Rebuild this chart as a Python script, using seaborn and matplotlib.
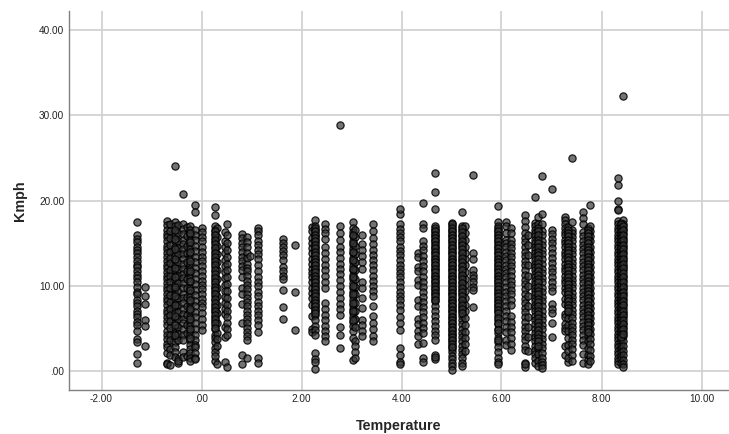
import pandas as pd
import matplotlib
matplotlib.use('Agg')
import matplotlib.pyplot as plt
import seaborn as sns

# speeds read column by column, one list per temperature
c_m130 = [17.5,16.0,15.5,15.1,14.6,14.2,13.8,13.4,12.9,12.5,12.2,11.7,11.3,10.9,10.4,9.9,9.3,9.0,8.4,8.0,7.6,7.1,6.7,6.3,5.8,5.4,4.7,3.8,3.4,2.0,1.0]
c_m113 = [9.9,8.8,7.9,6.0,5.3,3.0]
c_m070 = [17.6,17.1,16.6,16.1,15.7,15.2,14.7,14.3,13.8,13.4,12.9,12.5,12.1,11.6,11.2,10.8,10.3,9.9,9.5,9.0,8.6,8.2,7.7,7.2,6.8,6.3,5.9,5.4,4.7,4.3,3.8,3.2,2.8,2.1,1.0,0.8]
c_m063 = [17.3,16.4,15.6,14.8,14.0,13.3,12.7,11.9,11.1,10.4,9.7,8.9,8.1,7.3,6.6,5.9,5.1,4.3,3.6,2.6,1.9,0.7]
c_m053 = [17.5,17.0,16.3,15.8,15.2,14.6,14.0,13.5,12.9,12.3,11.8,11.2,10.7,10.1,9.6,9.0,8.5,7.9,7.4,6.8,6.2,5.7,5.1,4.5,3.9,3.4,2.8,2.3,1.7,24.0]
c_m047 = [17.1,16.2,15.3,14.4,13.7,12.8,12.0,11.1,10.3,9.4,8.6,7.8,6.9,6.1,5.2,4.4,3.6,1.4,1.0,1.2]
c_m037 = [20.8,17.2,16.7,16.1,15.4,14.9,14.3,13.7,13.1,12.6,12.0,11.4,10.9,10.3,9.7,9.1,8.6,8.0,7.3,6.7,6.1,5.6,5.0,4.3,3.6,2.2,1.7]
c_m030 = [16.9,15.8,14.7,13.8,12.8,11.7,10.8,9.7,8.7,7.6,6.6,5.4,4.5,1.8]
c_m023 = [17.0,16.5,15.9,15.4,14.8,14.3,13.7,13.1,12.6,12.0,11.5,10.9,10.4,9.8,9.2,8.7,8.1,7.5,7.0,6.4,5.8,5.3,4.7,4.2,3.6,3.1,2.6,2.1,1.6,1.2]
c_m013 = [19.5,18.6,16.6,16.0,15.4,14.7,14.1,13.4,12.8,12.1,11.5,10.8,10.2,9.5,8.9,8.2,7.6,6.9,6.3,5.6,4.9,4.3,3.6,3.1,2.8,2.1,1.6,1.4]
c_p000 = [16.8,16.3,15.7,15.2,14.6,14.0,13.4,12.9,12.3,11.7,11.2,10.6,10.1,9.6,9.1,8.5,8.0,7.5,6.8,6.1,5.4,4.8]
c_p027 = [19.2,18.3,17.0,16.6,16.1,15.6,15.1,14.6,14.1,13.6,13.2,12.7,12.2,11.7,11.2,10.7,10.2,9.7,9.3,8.8,8.3,7.8,7.3,6.9,6.4,5.9,5.4,4.9,4.3,3.9,3.4,2.7,2.2,1.2,1.8]
c_p030 = [16.8,15.7,14.7,13.7,12.8,11.8,10.8,9.8,8.8,7.8,6.8,5.7,4.5,3.8,3.0,0.9]
c_p047 = [16.3,15.2,14.5,13.8,13.0,12.3,11.6,10.9,10.1,9.4,8.7,8.0,7.3,6.7,5.2,1.1,4.0]
c_p050 = [17.3,15.9,15.0,14.2,13.4,12.6,11.8,11.0,10.2,9.4,8.6,7.8,7.1,6.3,5.6,5.0,4.2,0.5]
c_p080 = [16.1,15.6,15.0,14.5,14.0,13.4,12.9,12.3,11.8,11.0,9.7,9.1,7.9,5.7,1.9,0.8]
c_p090 = [15.7,15.1,14.6,13.9,13.3,12.6,12.1,11.7,11.1,10.6,10.1,9.6,9.1,8.6,8.1,7.6,7.1,6.6,6.1,5.6,5.1,4.6,4.1,3.6,1.5]
c_p097 = [13.5]
c_p113 = [16.8,16.4,15.9,15.3,14.8,14.2,13.7,13.1,12.4,11.7,11.0,10.5,10.0,9.3,8.8,8.1,7.6,7.1,6.6,6.0,5.4,1.5,1.0,4.6]
c_p163 = [15.5,15.0,14.6,14.1,13.6,13.0,12.2,11.7,11.2,10.8,9.5,7.5,6.1]
c_p187 = [14.8,9.3,4.8]
c_p220 = [16.9,16.4,15.6,15.0,14.4,13.8,13.2,12.6,12.0,11.5,11.0,10.4,9.8,9.2,8.6,7.8,6.5,5.0,4.6]
c_p227 = [17.7,17.0,16.6,16.2,15.8,15.4,15.0,14.6,14.2,13.8,13.4,13.0,12.6,12.2,11.8,11.4,11.0,10.6,10.2,9.8,9.4,9.0,8.6,8.2,7.8,7.4,7.0,6.6,6.0,5.3,4.8,4.2,2.1,1.4,1.1,0.3]
c_p247 = [17.2,16.7,16.2,15.5,14.5,13.8,13.1,12.4,11.8,11.2,10.5,9.8,8.0,7.3,6.6,6.0,5.3,4.7,4.1,3.5]
c_p277 = [28.9,17.0,16.2,15.4,14.6,14.0,13.3,12.6,12.0,11.4,10.7,10.0,9.3,8.6,7.9,7.3,6.6,5.2,4.2,2.7]
c_p303 = [17.5,16.8,16.3,15.8,15.3,14.8,14.3,13.8,13.3,12.8,12.3,11.8,11.3,10.8,10.3,9.8,9.3,8.8,8.3,7.8,7.3,6.8,6.3,5.8,5.3,4.7,3.9,1.3]
c_p307 = [16.6,15.7,14.7,13.7,12.8,11.9,10.8,9.9,9.0,8.0,7.0,6.1,5.2,3.5,2.9,2.2,1.6]
c_p320 = [15.9,14.9,14.2,13.5,12.8,12.0,10.5,9.7,8.6,7.4,6.0,5.4,4.7,4.1]
c_p343 = [17.2,16.4,15.6,14.9,14.2,13.6,13.0,12.4,11.8,11.2,10.6,10.0,9.4,8.8,7.6,6.5,5.7,4.9,4.1,3.5]
c_p397 = [18.4,19.0,17.3,16.7,16.2,15.7,15.2,14.6,14.1,13.6,13.0,12.5,12.0,11.5,11.0,10.4,9.9,9.3,8.8,8.3,7.8,7.2,6.4,5.6,4.8,2.7,1.9,1.1,0.8]
c_p433 = [13.9,13.4,12.2,11.7,10.7,10.1,8.4,7.6,6.1,5.5,4.7,4.1,3.2]
c_p443 = [19.7,17.3,16.8,15.3,14.7,14.2,13.5,12.9,12.3,11.7,11.0,10.5,9.9,9.3,8.7,8.1,7.5,6.9,6.4,5.7,5.1,4.5,3.3,1.6,1.1]
c_p467 = [23.2,21.0,19.0,17.0,16.6,16.2,15.8,15.4,15.0,14.6,14.2,13.8,13.4,13.0,12.6,12.2,11.8,11.4,11.0,10.6,10.2,9.8,9.4,9.0,8.6,8.2,7.6,7.1,6.5,5.9,5.3,4.7,4.2,3.6,1.9,1.4,1.7]
c_p500 = [17.4,17.0,16.6,16.2,15.8,15.4,15.0,14.6,14.2,13.8,13.4,13.0,12.6,12.2,11.8,11.4,11.0,10.6,10.2,9.8,9.4,9.0,8.6,8.2,7.8,7.4,7.0,6.6,6.2,5.8,5.4,5.0,4.6,4.2,3.8,3.4,3.0,2.6,2.2,1.8,1.4,1.0,0.6,0.2]
c_p520 = [18.7,17.0,16.5,16.0,15.5,15.0,14.5,14.0,13.5,13.0,12.5,12.0,11.5,11.0,10.5,10.0,9.5,9.0,8.5,8.0,7.5,7.0,6.5,6.0,5.5,5.0,4.5,4.0,3.5,3.0,2.5,2.0,1.5,1.0,0.6]
c_p527 = [17.0,16.2,15.4,14.6,13.9,13.2,12.4,11.6,10.8,10.1,9.4,8.6,7.8,7.0,6.2,5.4,4.6,3.9,3.2,2.4]
c_p543 = [23.0,13.9,13.2,11.9,11.3,10.9,10.4,9.9,9.5,7.5]
c_p593 = [19.3,17.5,17.0,16.6,16.2,15.8,15.4,15.0,14.6,14.2,13.8,13.4,13.0,12.6,12.2,11.8,11.4,11.0,10.6,10.2,9.8,9.4,9.0,8.6,8.2,7.8,7.4,7.0,6.5,6.0,5.5,5.0,4.5,3.9,3.4,2.8,2.2,1.6,1.1,0.8]
c_p610 = [17.5,17.0,16.2,15.4,15.0,14.5,14.0,13.5,13.0,12.5,12.0,11.5,11.0,10.4,9.9,9.3,8.8,8.2,7.6,7.0,6.5,5.9,5.2,4.6,3.7,3.1]
c_p620 = [16.8,16.2,15.4,14.9,14.4,13.9,13.4,12.8,12.3,11.7,11.2,10.6,10.1,9.5,9.0,8.3,7.7,6.5,5.8,5.2,4.6,3.9,3.2,2.5]
c_p647 = [18.3,17.6,16.9,16.2,15.6,15.1,14.6,14.0,13.5,12.9,12.4,11.8,11.3,10.7,10.2,9.6,9.1,8.5,8.0,7.4,6.9,6.3,5.8,5.2,4.7,4.1,3.6,3.0,2.5,1.0,0.5,0.8]
c_p653 = [16.0,14.8,13.6,12.4,11.2,10.0,8.8,7.6,6.4,5.2,4.0,2.4]
c_p667 = [20.4,17.4,17.0,16.6,16.2,15.8,15.4,15.0,14.6,14.2,13.8,13.4,13.0,12.6,12.2,11.8,11.4,11.0,10.6,10.2,9.8,9.4,9.0,8.6,8.2,7.8,7.4,7.0,6.5,6.0,5.5,5.0,4.5,4.0,3.5,3.0,2.5,2.0,1.5,1.0]
c_p673 = [18.1,17.2,16.5,15.7,14.9,14.2,13.4,12.6,11.9,11.1,10.3,9.6,8.8,8.0,7.3,6.5,5.7,5.0,4.2,3.4,2.7,2.0,1.2,0.6]
c_p680 = [22.9,18.4,17.3,16.4,15.9,15.3,14.8,14.2,13.7,13.1,12.6,12.0,11.5,10.9,10.4,9.8,9.3,8.7,8.2,7.6,7.1,6.5,6.0,5.4,4.9,4.3,3.8,3.2,2.7,2.1,1.5,1.1,0.7,0.4]
c_p700 = [21.3,16.5,16.1,15.5,15.0,14.4,13.9,13.3,12.7,12.1,11.6,11.0,10.5,9.9,9.4,7.9,7.3,6.8,5.7,4.0]
c_p727 = [18.1,17.7,17.2,16.8,16.3,15.9,15.4,15.0,14.5,14.0,13.6,13.1,12.6,12.1,11.7,11.2,10.7,10.3,9.8,9.3,8.5,7.9,6.7,6.3,5.5,5.1,4.7,2.9,1.9]
c_p733 = [16.9,16.0,15.3,14.5,13.8,13.0,12.3,11.5,10.8,10.0,9.2,8.5,7.7,6.9,6.2,5.4,4.7,3.9,3.1,2.4,1.1,1.5]
c_p740 = [25.0,17.5,16.6,16.2,15.7,15.2,14.7,14.2,13.7,13.2,12.7,12.2,11.7,11.2,10.7,10.2,9.7,9.2,8.7,8.2,7.7,7.2,6.7,6.2,5.7,5.2,4.7,4.2,3.7,3.2,2.6,1.9,1.2]
c_p763 = [18.7,18.0,17.2,16.3,15.8,15.3,14.8,14.3,13.8,13.3,12.8,12.3,11.8,11.3,10.8,10.3,9.8,9.3,8.8,8.3,7.8,7.3,6.8,6.3,5.8,5.3,4.8,4.3,3.7,3.1,2.0,1.0]
c_p773 = [16.8,16.3,15.7,15.0,14.3,13.7,13.0,12.3,11.7,11.0,10.3,9.7,9.0,8.3,7.7,7.0,6.3,5.7,5.0,4.3,3.5,2.7,1.9,1.3,0.8]
c_p777 = [19.5,17.0,16.4,15.8,15.2,14.6,14.0,13.4,12.8,12.2,11.6,11.0,10.4,9.8,9.2,8.6,8.0,7.4,6.8,6.2,5.6,5.0,4.4,3.8,3.2,2.5,1.8,1.2]
c_p833 = [22.6,21.8,20.0,19.0,18.9,17.6,17.2,16.8,16.4,16.0,15.6,15.2,14.8,14.4,14.0,13.6,13.2,12.8,12.4,12.0,11.6,11.2,10.8,10.4,10.0,9.6,9.2,8.8,8.4,8.0,7.6,7.2,6.8,6.4,6.0,5.6,5.2,4.8,4.4,4.0,3.6,3.2,2.8,2.4,2.0,1.6,1.2,0.8]
c_p838 = [17.4,17.0,16.6,16.2,15.8,15.4,15.0,14.6,14.2,13.8,13.4,13.0,12.6,12.2,11.8,11.4,11.0,10.6,10.2,9.8,9.4,9.0,8.6,8.2,7.8,7.4,7.0,6.6,6.2,5.8,5.4,5.0,4.6,4.2,3.8,3.4,3.0,2.6,2.2,1.8,1.4,1.0]
c_p843 = [32.3,17.7,17.2,16.7,16.2,15.6,15.1,14.5,14.0,13.4,12.9,12.3,11.8,11.2,10.7,10.1,9.6,9.0,8.5,7.9,7.4,6.8,6.3,5.7,5.2,4.6,4.1,3.5,3.0,2.4,1.9,1.3,0.9,0.5]

# extra rides in the columns that print almost black
d_m053 = [16.6,15.5,14.3,13.2,12.1,11.0,9.9,8.8,7.7,6.5,5.4,4.2]
d_m023 = [16.2,15.1,14.0,12.9,11.7,10.6,9.5,8.4,7.3,6.1,5.0,3.9]
d_p027 = [16.4,15.9,15.4,14.9,14.4,13.9,13.4,12.9,12.4,11.9,11.4,10.9,10.4,9.9,9.5,9.0,8.5,8.0,7.5,7.1,6.6,6.1,5.6,5.1]
d_p227 = [16.8,16.4,16.0,15.6,15.2,14.8,14.4,14.0,13.6,13.2,12.8,12.4,12.0,11.6,11.2,10.8,10.4,10.0,9.6,9.2,8.8,8.4,8.0,7.6,7.2,6.8]
d_p303 = [16.0,15.0,14.0,13.0,12.0,11.0,10.0,9.0,8.0,7.0,6.0]
d_p467 = [16.8,16.4,16.0,15.6,15.2,14.8,14.4,14.0,13.6,13.2,12.8,12.4,12.0,11.6,11.2,10.8,10.4,10.0,9.6,9.2,8.8,8.4]
d_p500 = [17.2,16.8,16.4,16.0,15.6,15.2,14.8,14.4,14.0,13.6,13.2,12.8,12.4,12.0,11.6,11.2,10.8,10.4,10.0,9.6,9.2,8.8,8.4,8.0,7.6,7.2,6.8,6.4,6.0,5.6,5.2,4.8,4.4,4.0,3.6,3.2,2.8]
d_p520 = [16.8,16.3,15.8,15.3,14.8,14.3,13.8,13.3,12.8,12.3,11.8,11.3,10.8,10.3,9.8,9.3,8.8,8.3,7.8,7.3,6.8]
d_p593 = [16.8,16.4,16.0,15.6,15.2,14.8,14.4,14.0,13.6,13.2,12.8,12.4,12.0,11.6,11.2,10.8,10.4,10.0,9.6,9.2,8.8,8.4,8.0,7.6,7.2,6.8,6.2,5.7,4.8,3.7]
d_p673 = [16.8,16.4,15.9,15.4,15.0,14.5,14.0,13.6,13.1,12.7,12.2,11.7,11.3,10.8,10.4,9.9,9.4,9.0,8.5,8.1,7.6,7.1,6.7,6.2,5.8,5.3,4.8,4.4,3.9,3.5,3.0]
d_p733 = [16.6,16.2,15.8,15.4,15.0,14.6,14.2,13.8,13.4,13.0,12.6,12.2,11.8,11.4,11.0,10.6,10.2,9.8,9.4,9.0,8.6,8.2,7.8,7.4,7.0]
d_p773 = [16.6,16.2,15.8,15.4,15.0,14.6,14.2,13.8,13.4,13.0,12.6,12.2,11.8,11.4,11.0,10.6,10.2,9.8,9.4,9.0,8.6,8.2,7.8,7.4,7.0,6.6,6.2,5.8,5.4,5.0,4.6]
d_p838 = [17.2,16.8,16.4,16.0,15.6,15.2,14.8,14.4,14.0,13.6,13.2,12.8,12.4,12.0,11.6,11.2,10.8,10.4,10.0,9.6,9.2,8.8,8.4,8.0,7.6,7.2,6.8,6.4,6.0,5.6,5.2,4.8,4.4,4.0]
d_p843 = [17.0,16.5,16.0,15.4,14.8,14.3,13.7,13.2,12.6,12.1,11.5,11.0,10.4,9.9,9.3,8.8,8.2,7.7,7.1,6.6,6.0,5.5,4.9,4.4]

temps = [-1.30,-1.13,-0.70,-0.63,-0.53,-0.47,-0.37,-0.30,-0.23,-0.13,0.00,0.27,0.30,0.47,0.50,0.80,0.90,0.97,1.13,1.63,1.87,2.20,2.27,2.47,2.77,3.03,3.07,3.20,3.43,3.97,4.33,4.43,4.67,5.00,5.20,5.27,5.43,5.93,6.10,6.20,6.47,6.53,6.67,6.73,6.80,7.00,7.27,7.33,7.40,7.63,7.73,7.77,8.33,8.38,8.43]
speeds = [c_m130,c_m113,c_m070,c_m063,c_m053,c_m047,c_m037,c_m030,c_m023,c_m013,c_p000,c_p027,c_p030,c_p047,c_p050,c_p080,c_p090,c_p097,c_p113,c_p163,c_p187,c_p220,c_p227,c_p247,c_p277,c_p303,c_p307,c_p320,c_p343,c_p397,c_p433,c_p443,c_p467,c_p500,c_p520,c_p527,c_p543,c_p593,c_p610,c_p620,c_p647,c_p653,c_p667,c_p673,c_p680,c_p700,c_p727,c_p733,c_p740,c_p763,c_p773,c_p777,c_p833,c_p838,c_p843]
extra_temps = [-0.53,-0.23,0.27,2.27,3.03,4.67,5.00,5.20,5.93,6.73,7.33,7.73,8.38,8.43]
extra_speeds = [d_m053,d_m023,d_p027,d_p227,d_p303,d_p467,d_p500,d_p520,d_p593,d_p673,d_p733,d_p773,d_p838,d_p843]

x_ticks = [-2, 0, 2, 4, 6, 8, 10]
x_labels = ['-2.00', '.00', '2.00', '4.00', '6.00', '8.00', '10.00']
y_ticks = [0, 10, 20, 30, 40]
y_labels = ['.00', '10.00', '20.00', '30.00', '40.00']

rows = [(t, s) for t, col in zip(temps + extra_temps, speeds + extra_speeds) for s in col]
df = pd.DataFrame(rows, columns=['Temperature', 'Kmph'])

sns.set_style('white')
plt.rcParams['font.family'] = ['Liberation Sans', 'DejaVu Sans']

fig = plt.figure(figsize=(7.29, 4.34), dpi=100)
ax = fig.add_axes([68.5/729, 1 - 390/434, (729 - 68.5)/729, (390 - 11)/434])

sns.scatterplot(data=df, x='Temperature', y='Kmph', ax=ax, s=27, color=(0.22, 0.22, 0.22, 0.7),
                edgecolor=(0, 0, 0, 0.85), linewidth=0.9, zorder=3)

ax.set_xlim(-2.66, 10.55)
ax.set_ylim(-2.2, 42.2)
ax.set_xticks(x_ticks, x_labels)
ax.set_yticks(y_ticks, y_labels)
ax.grid(True, color='#d2d2d2', linewidth=1.3)
ax.set_axisbelow(True)
ax.tick_params(length=0, labelsize=7.2, labelcolor='#222222', pad=3)
ax.set_xlabel('Temperature', fontsize=10.3, fontweight='bold', labelpad=11)
ax.set_ylabel('Kmph', fontsize=10.3, fontweight='bold', labelpad=9)
for side in ['top', 'right']:
    ax.spines[side].set_visible(False)
for side in ['left', 'bottom']:
    ax.spines[side].set_color('#808080')
    ax.spines[side].set_linewidth(1.0)

fig.savefig('out.png', dpi=100)
